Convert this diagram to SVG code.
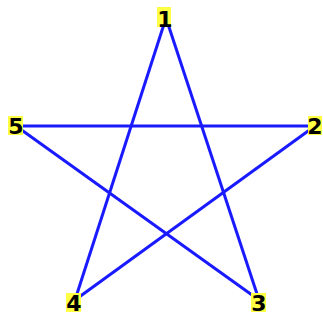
<svg xmlns="http://www.w3.org/2000/svg" width="323" height="320" viewBox="0 0 323 320">
<style>
.edge{stroke:#1a1aff;stroke-width:3;fill:none}
.bg{fill:#ffff44}
.lbl{font-family:"DejaVu Sans",Verdana,sans-serif;font-weight:bold;font-size:22px;fill:#000;text-anchor:middle}
</style>
<rect width="323" height="320" fill="#fff"/>
<g id="connectors">
<line class="edge" x1="166" y1="18" x2="75" y2="300"/>
<line class="edge" x1="166" y1="18" x2="259" y2="300"/>
<line class="edge" x1="16" y1="126" x2="315" y2="126"/>
<line class="edge" x1="16" y1="126" x2="259" y2="300"/>
<line class="edge" x1="315" y1="126" x2="75" y2="300"/>
</g>
<g id="n1"><rect class="bg" x="157" y="7" width="14" height="20"/><text class="lbl" x="165" y="27">1</text></g>
<g id="n2"><rect class="bg" x="308" y="116" width="14" height="19"/><text class="lbl" x="315" y="134">2</text></g>
<g id="n3"><rect class="bg" x="251" y="293" width="15" height="19"/><text class="lbl" x="259" y="311">3</text></g>
<g id="n4"><rect class="bg" x="66" y="293" width="15" height="19"/><text class="lbl" x="74" y="311">4</text></g>
<g id="n5"><rect class="bg" x="8" y="116" width="15" height="19"/><text class="lbl" x="16" y="134">5</text></g>
</svg>
